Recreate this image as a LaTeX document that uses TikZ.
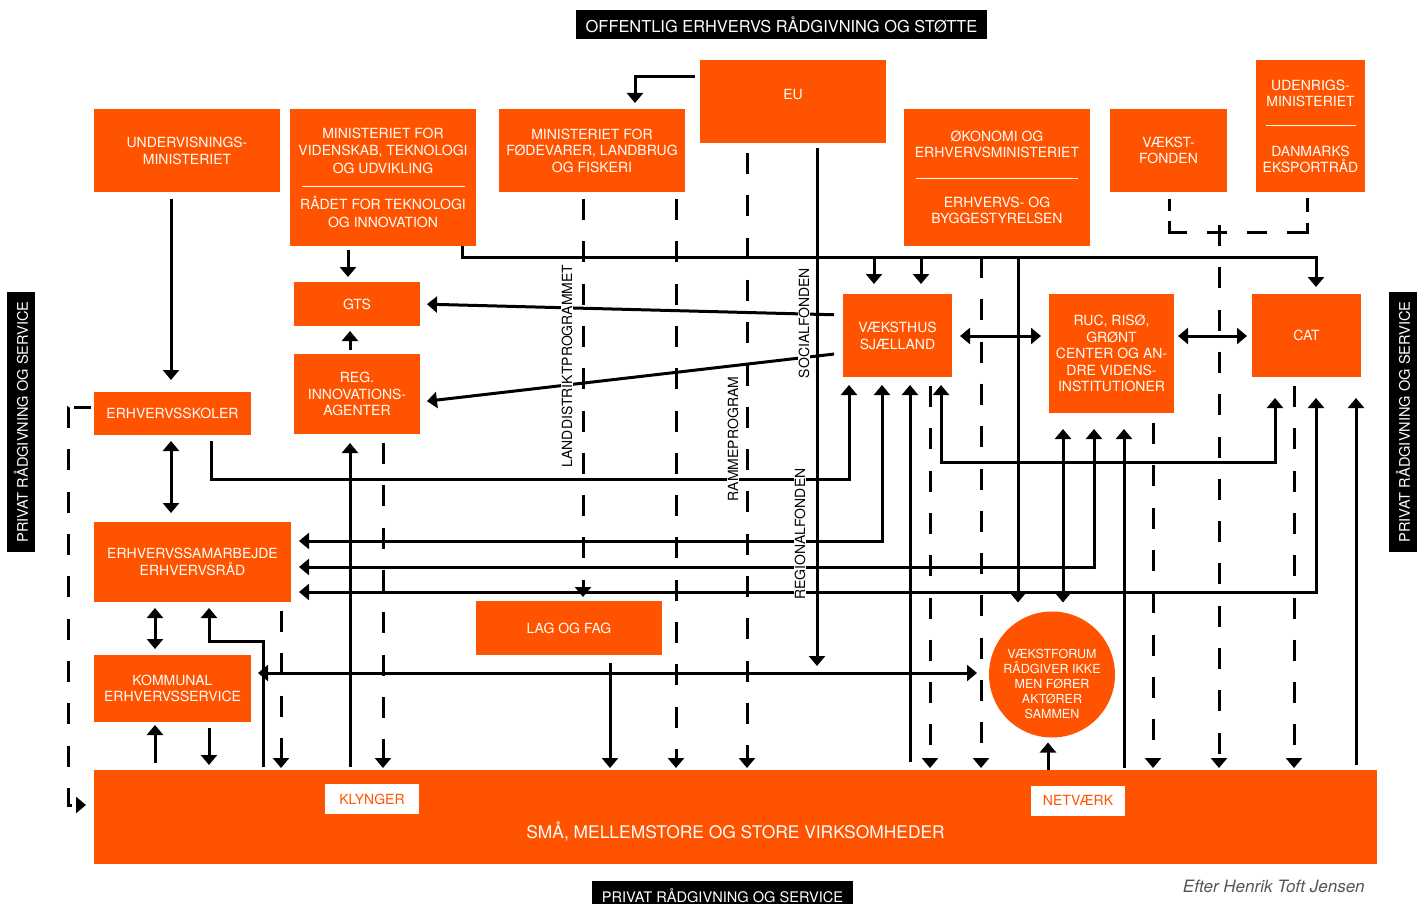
\documentclass[tikz,border=0pt]{standalone}
\usepackage{fontspec}
\setmainfont{TeX Gyre Heros}
\usetikzlibrary{arrows.meta}
\definecolor{vorange}{RGB}{255,83,0}
\definecolor{credit}{RGB}{85,85,85}

\begin{document}
\begin{tikzpicture}[x=1pt, y=-1pt, line width=3pt, >={Triangle[width=16pt,length=10pt]},
  box/.style={fill=vorange, text=white, align=center, inner sep=2pt, font=\fontsize{14}{17}\selectfont},
  blackbar/.style={fill=black, text=white, inner sep=0pt, font=\fontsize{14.6}{17}\selectfont},
  fund/.style={fill=white, rotate=90, inner sep=1pt, font=\fontsize{14}{17}\selectfont},
  tag/.style={fill=white, text=vorange, minimum width=94pt, minimum height=30pt, inner sep=0pt, font=\fontsize{14}{17}\selectfont},
  forum node/.style={circle, fill=vorange, minimum size=126pt, inner sep=0pt},
  forumtext/.style={text=white, align=center, font=\fontsize{12.5}{14.8}\selectfont},
  dashline/.style={dash pattern=on 21pt off 21.3pt}]
  \tikzstyle{every node}=[outer sep=0pt]
  \useasboundingbox (0,0) rectangle (1424,904);

  \node[blackbar, minimum width=411pt, minimum height=29pt, font=\fontsize{16.4}{18}\selectfont] (offentlig) at (781.5,24.5) {OFFENTLIG ERHVERVS RÅDGIVNING OG STØTTE};
  \node[blackbar, minimum width=261pt, minimum height=29pt] (privatbund) at (722.5,895.5) {PRIVAT RÅDGIVNING OG SERVICE};
  \node[blackbar, minimum width=260pt, minimum height=28pt, rotate=90] (privatvenstre) at (21,422) {PRIVAT RÅDGIVNING OG SERVICE};
  \node[blackbar, minimum width=260pt, minimum height=28pt, rotate=90] (privathoejre) at (1403,422) {PRIVAT RÅDGIVNING OG SERVICE};

  \node[box, minimum width=186pt, minimum height=83pt] (undervis) at (187,150.5) {UNDERVISNINGS-\\MINISTERIET};
  \node[box, minimum width=186pt, minimum height=137pt, font=\fontsize{14}{17.8}\selectfont] (videnskab) at (383,177.5) {MINISTERIET FOR\\VIDENSKAB, TEKNOLOGI\\OG UDVIKLING\\\rule[4.5pt]{163pt}{1pt}\\RÅDET FOR TEKNOLOGI\\OG INNOVATION};
  \node[box, minimum width=186pt, minimum height=83pt, font=\fontsize{14}{16.5}\selectfont] (fodevarer) at (592,150.5) {MINISTERIET FOR\\FØDEVARER, LANDBRUG\\OG FISKERI};
  \node[box, minimum width=186pt, minimum height=83pt, text height=10pt, text depth=13pt] (eu) at (793,101.5) {EU};
  \node[box, minimum width=186pt, minimum height=137pt, font=\fontsize{14}{16.5}\selectfont] (okonomi) at (997,177.5) {ØKONOMI OG\\ERHVERVSMINISTERIET\\[9pt]\rule[4.5pt]{162pt}{1pt}\\[7.5pt]ERHVERVS- OG\\BYGGESTYRELSEN};
  \node[box, minimum width=117pt, minimum height=83pt, font=\fontsize{14}{16.5}\selectfont] (vaekstfond) at (1168.5,150.5) {VÆKST-\\FONDEN};
  \node[box, minimum width=109pt, minimum height=132pt, font=\fontsize{14}{16}\selectfont] (udenrigs) at (1310.5,126) {UDENRIGS-\\MINISTERIET\\[8pt]\rule[4.5pt]{90pt}{1pt}\\[10pt]DANMARKS\\EKSPORTRÅD};

  \node[box, minimum width=126pt, minimum height=44pt] (gts) at (357,304) {GTS};
  \node[box, minimum width=126pt, minimum height=80pt, font=\fontsize{14}{16.5}\selectfont] (reginno) at (357,394) {REG.\\INNOVATIONS-\\AGENTER};
  \node[box, minimum width=157pt, minimum height=43pt] (skoler) at (172.5,413.5) {ERHVERVSSKOLER};
  \node[box, minimum width=109pt, minimum height=83pt] (vaeksthus) at (897.5,335.5) {VÆKSTHUS\\SJÆLLAND};
  \node[box, minimum width=125pt, minimum height=119pt, font=\fontsize{14}{16.5}\selectfont] (ruc) at (1111.5,353.5) {RUC, RISØ,\\GRØNT\\CENTER OG AN-\\DRE VIDENS-\\INSTITUTIONER};
  \node[box, minimum width=109pt, minimum height=83pt] (cat) at (1306.5,335.5) {CAT};
  \node[box, minimum width=197pt, minimum height=80pt, font=\fontsize{14}{16.5}\selectfont] (samarb) at (192.5,562) {ERHVERVSSAMARBEJDE\\ERHVERVSRÅD};
  \node[box, minimum width=157pt, minimum height=67pt, font=\fontsize{14}{16.5}\selectfont] (kommunal) at (172.5,688.5) {KOMMUNAL\\ERHVERVSSERVICE};
  \node[box, minimum width=186pt, minimum height=54pt] (lagfag) at (569,628) {LAG OG FAG};
  \node[forum node, label={[forumtext, yshift=-9.5pt]center:{VÆKSTFORUM\\RÅDGIVER IKKE\\MEN FØRER\\AKTØRER\\SAMMEN}}] (forum) at (1052,674.5) {};
  \node[box, minimum width=1283pt, minimum height=94pt, text height=42.5pt, text depth=0pt, font=\fontsize{17.4}{20}\selectfont] (smv) at (735.5,817) {SMÅ, MELLEMSTORE OG STORE VIRKSOMHEDER};
  \node[tag] (klynger) at (372,799) {KLYNGER};
  \node[tag] (netvaerk) at (1078,800.5) {NETVÆRK};
  \node[anchor=east, text=credit, font=\fontsize{17}{20}\selectfont\itshape] (kilde) at (1368,886) {Efter Henrik Toft Jensen};

  \coordinate (bus) at (0,257);
  \coordinate (kline) at (0,673);
  \coordinate (plus) at (1219,233);

  \draw[->, shorten <=5pt, shorten >=6pt] (eu.west |- 0,77) -| (635,0 |- fodevarer.north);
  \draw[->, shorten <=7pt, shorten >=12pt] (171,0 |- undervis.south) -- (171,0 |- skoler.north);
  \draw[->, shorten <=4pt, shorten >=5pt] (348,0 |- videnskab.south) -- (348,0 |- gts.north);
  \draw[->, shorten <=4pt, shorten >=5pt] (350,0 |- reginno.north) -- (350,0 |- gts.south);
  \draw[->, shorten >=7pt] (462,0 |- videnskab.south) |- (1316,0 |- bus) -- (1316,0 |- cat.north);
  \draw[->, shorten >=10pt] (874,0 |- bus) -- (874,0 |- vaeksthus.north);
  \draw[->, shorten >=10pt] (921,0 |- bus) -- (921,0 |- vaeksthus.north);
  \draw[dashline, ->, shorten >=2pt] (981,0 |- bus) -- (981,0 |- smv.north);
  \draw[->, shorten >=9pt] (1018,0 |- bus) -- (1018,0 |- forum.north);
  \draw[dashline, ->, shorten <=10pt, shorten >=2pt] (747,0 |- eu.south) -- (747,0 |- smv.north);
  \draw[dashline, ->, shorten <=7pt, shorten >=4pt] (583,0 |- fodevarer.south) -- (583,0 |- lagfag.north);
  \draw[dashline, ->, shorten <=7pt, shorten >=2pt] (676,0 |- fodevarer.south) -- (676,0 |- smv.north);
  \draw[->, shorten <=5pt, shorten >=7pt] (817,0 |- eu.south) -- (817,0 |- kline);

  \draw[->, shorten <=9pt, shorten >=7pt] (vaeksthus.west |- 0,315) -- (gts.east |- 0,304);
  \draw[->, shorten <=9pt, shorten >=7pt] (vaeksthus.west |- 0,353) -- (reginno.east |- 0,402);
  \draw[->, shorten <=6pt, shorten >=8pt] (211,0 |- skoler.south) |- (849,479) -- (849,0 |- vaeksthus.south);
  \draw[<->, shorten <=6pt, shorten >=9pt] (171,0 |- skoler.south) -- (171,0 |- samarb.north);
  \draw[<->, shorten <=8pt, shorten >=8pt] (samarb.east |- 0,541) -| (882,0 |- vaeksthus.south);
  \draw[<->, shorten <=8pt, shorten >=16pt] (samarb.east |- 0,567) -| (1094,0 |- ruc.south);
  \draw[<->, shorten <=8pt, shorten >=21pt] (samarb.east |- 0,592) -| (1316,0 |- cat.south);
  \draw[<->, shorten <=8pt, shorten >=21pt] (941,0 |- vaeksthus.south) |- (1275,462) -- (1275,0 |- cat.south);
  \draw[->, shorten <=8pt, shorten >=8pt] (910,0 |- smv.north) -- (910,0 |- vaeksthus.south);
  \draw[dashline, ->, shorten <=9pt, shorten >=2pt] (930,0 |- vaeksthus.south) -- (930,0 |- smv.north);
  \draw[<->, shorten <=8pt, shorten >=8pt] (vaeksthus.east |- 0,336) -- (ruc.west |- 0,336);
  \draw[<->, shorten <=4pt, shorten >=5pt] (ruc.east |- 0,336) -- (cat.west |- 0,336);
  \draw[<->, shorten <=16pt, shorten >=9pt] (1063,0 |- ruc.south) -- (1063,0 |- forum.north);
  \draw[->, shorten <=2pt, shorten >=16pt] (1124,0 |- smv.north) -- (1124,0 |- ruc.south);
  \draw[dashline, ->, shorten <=10pt, shorten >=2pt] (1153,0 |- ruc.south) -- (1153,0 |- smv.north);
  \draw[->, shorten <=5pt, shorten >=21pt] (1356,0 |- smv.north) -- (1356,0 |- cat.south);
  \draw[dashline, ->, shorten <=9pt, shorten >=2pt] (1294,0 |- cat.south) -- (1294,0 |- smv.north);
  \draw[dash pattern=on 12pt off 10pt on 30pt off 20pt on 20pt off 20pt on 20pt off 20pt on 30pt off 11pt on 14pt off 20pt, shorten <=7pt, shorten >=6pt] (1169,0 |- vaekstfond.south) |- (plus) -| (1307,0 |- udenrigs.south);
  \draw[dashline, ->, shorten >=2pt] ([yshift=8pt]plus) -- (1219,0 |- smv.north);

  \draw[<->, shorten <=6pt, shorten >=6pt] (155,0 |- samarb.south) -- (155,0 |- kommunal.north);
  \draw[->, shorten <=3pt, shorten >=6pt] (263,0 |- smv.north) |- (209,641) -- (209,0 |- samarb.south);
  \draw[<->, shorten <=7pt, shorten >=12pt] (kommunal.east |- kline) -- (forum.west |- kline);
  \draw[->, shorten <=7pt, shorten >=3pt] (155,0 |- smv.north) -- (155,0 |- kommunal.south);
  \draw[->, shorten <=6pt, shorten >=5pt] (209,0 |- kommunal.south) -- (209,0 |- smv.north);
  \draw[dashline, ->, shorten <=9pt, shorten >=2pt] (281,0 |- samarb.south) -- (281,0 |- smv.north);
  \draw[->, shorten <=3pt, shorten >=9pt] (350,0 |- smv.north) -- (350,0 |- reginno.south);
  \draw[dashline, ->, shorten <=9pt, shorten >=2pt] (383,0 |- reginno.south) -- (383,0 |- smv.north);
  \draw[->, shorten <=8pt, shorten >=2pt] (610,0 |- lagfag.south) -- (610,0 |- smv.north);
  \draw[->, shorten >=5pt] (1048,0 |- smv.north) -- (1048,0 |- forum.south);
  \draw[->, dash pattern=on 17pt off 6pt on 21pt off 21.33pt on 21pt off 21.33pt on 21pt off 21.33pt on 21pt off 21.33pt on 21pt off 21.33pt on 21pt off 21.33pt on 21pt off 21.33pt on 21pt off 21.33pt on 21pt off 21.33pt on 21pt off 30pt, shorten <=3pt, shorten >=8pt] (skoler.west |- 0,407) -| (68,805) -- (smv.west |- 0,805);

  \node[fund] (landdistrikt) at (567,366) {LANDDISTRIKTPROGRAMMET};
  \node[fund] (ramme) at (733,439) {RAMMEPROGRAM};
  \node[fund] (social) at (804,323) {SOCIALFONDEN};
  \node[fund] (regional) at (800,534) {REGIONALFONDEN};
\end{tikzpicture}
\end{document}
